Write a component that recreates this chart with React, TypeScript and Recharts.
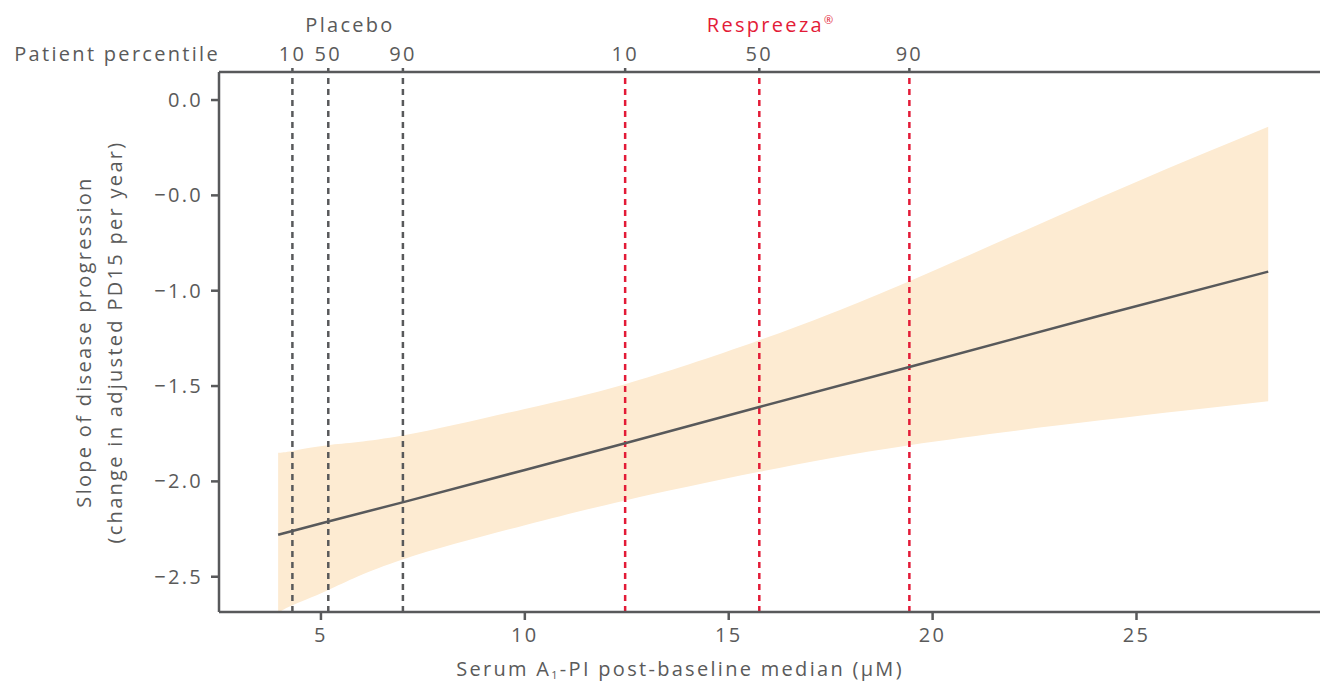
import React from "react";
import { ComposedChart, Area, Line, XAxis, YAxis, ReferenceLine } from "recharts";

// serum A1-PI post-baseline median (uM) and fitted slope with confidence band
const serum = [3.95, 4.3, 5.18, 7.0, 10.0, 12.46, 15.75, 19.43, 24.12, 28.23];
const slope = [-2.28, -2.26, -2.21, -2.11, -1.94, -1.8, -1.61, -1.4, -1.13, -0.9];
const upper = [-1.85, -1.84, -1.81, -1.76, -1.62, -1.49, -1.26, -0.95, -0.51, -0.14];
const lower = [-2.69, -2.65, -2.57, -2.41, -2.23, -2.1, -1.95, -1.81, -1.68, -1.58];

const placeboPct = [4.3, 5.18, 7.01];
const respreezaPct = [12.46, 15.75, 19.43];
const pctLabels = ["10", "50", "90"];

const xTicks = [5, 10, 15, 20, 25];
const yTicks = [0, -0.5, -1, -1.5, -2, -2.5];
const yTickLabels = ["0.0", "\u22120.0", "\u22121.0", "\u22121.5", "\u22122.0", "\u22122.5"];

const data = serum.map((x, i) => ({
  x,
  slope: slope[i],
  band: [lower[i], upper[i]],
}));

const GRAY = "#58595b";
const RED = "#e31b37";
const TEXT = "#5a5a5a";
const FONT = 20;

const topTicks = [...placeboPct, ...respreezaPct];
const topLabel = (v: number) => {
  const i = topTicks.indexOf(v);
  return i < 0 ? "" : pctLabels[i % 3];
};

export default function App() {
  return (
    <div
      style={{
        position: "absolute",
        left: 0,
        top: 0,
        fontFamily: "'Open Sans', sans-serif",
        letterSpacing: "2.3px",
      }}
    >
      <ComposedChart
        width={1322}
        height={682}
        data={data}
        margin={{ top: 0, right: 2, bottom: 30, left: 0 }}
      >
        <XAxis
          dataKey="x"
          type="number"
          domain={[2.5, 29.5]}
          ticks={xTicks}
          allowDataOverflow
          height={40}
          tickSize={8}
          tickMargin={8}
          tick={{ fill: TEXT, fontSize: FONT }}
          axisLine={{ stroke: GRAY, strokeWidth: 2.5 }}
          tickLine={{ stroke: GRAY, strokeWidth: 2.5 }}
          label={() => (
            <text x={680} y={676} textAnchor="middle" fill={TEXT} fontSize={FONT}>
              Serum A
              <tspan fontSize={11} dy={3}>1</tspan>
              <tspan dy={-3}>-PI post-baseline median (μM)</tspan>
            </text>
          )}
        />
        <XAxis
          xAxisId="top"
          dataKey="x"
          orientation="top"
          type="number"
          domain={[2.5, 29.5]}
          ticks={topTicks}
          tickFormatter={topLabel}
          allowDataOverflow
          interval={0}
          height={72}
          tickSize={4}
          tickMargin={7}
          tick={{ fill: TEXT, fontSize: FONT }}
          axisLine={{ stroke: GRAY, strokeWidth: 2.5 }}
          tickLine={{ stroke: GRAY, strokeWidth: 2.5 }}
          label={() => (
            <g>
              <text x={220} y={61} textAnchor="end" fill={TEXT} fontSize={FONT}>
                Patient percentile
              </text>
              <text x={350} y={32} textAnchor="middle" fill={TEXT} fontSize={FONT}>
                Placebo
              </text>
              <text x={770} y={32} textAnchor="middle" fill={RED} fontSize={FONT}>
                Respreeza
                <tspan fontSize={11} dy={-8} letterSpacing={0}>®</tspan>
              </text>
            </g>
          )}
        />
        <YAxis
          type="number"
          domain={[-2.685, 0.147]}
          ticks={yTicks}
          tickFormatter={(v: number) => yTickLabels[yTicks.indexOf(v)] ?? String(v)}
          allowDataOverflow
          width={219}
          tickSize={8}
          tickMargin={8}
          tick={{ fill: TEXT, fontSize: FONT }}
          axisLine={{ stroke: GRAY, strokeWidth: 2.5 }}
          tickLine={{ stroke: GRAY, strokeWidth: 2.5 }}
          label={() => (
            <g fill={TEXT} fontSize={FONT}>
              <text x={91} y={342} textAnchor="middle" transform="rotate(-90 91 342)">
                Slope of disease progression
              </text>
              <text x={122} y={342} textAnchor="middle" transform="rotate(-90 122 342)">
                (change in adjusted PD15 per year)
              </text>
            </g>
          )}
        />
        <Area
          dataKey="band"
          type="natural"
          stroke="none"
          fill="#fdebd2"
          fillOpacity={1}
          isAnimationActive={false}
        />
        {placeboPct.map((x) => (
          <ReferenceLine key={"p" + x} x={x} stroke={GRAY} strokeWidth={2.5} strokeDasharray="6 5" />
        ))}
        {respreezaPct.map((x) => (
          <ReferenceLine key={"r" + x} x={x} stroke={RED} strokeWidth={2.5} strokeDasharray="6 5" />
        ))}
        <Line
          dataKey="slope"
          type="linear"
          stroke={GRAY}
          strokeWidth={2.5}
          dot={false}
          isAnimationActive={false}
        />
      </ComposedChart>
    </div>
  );
}
